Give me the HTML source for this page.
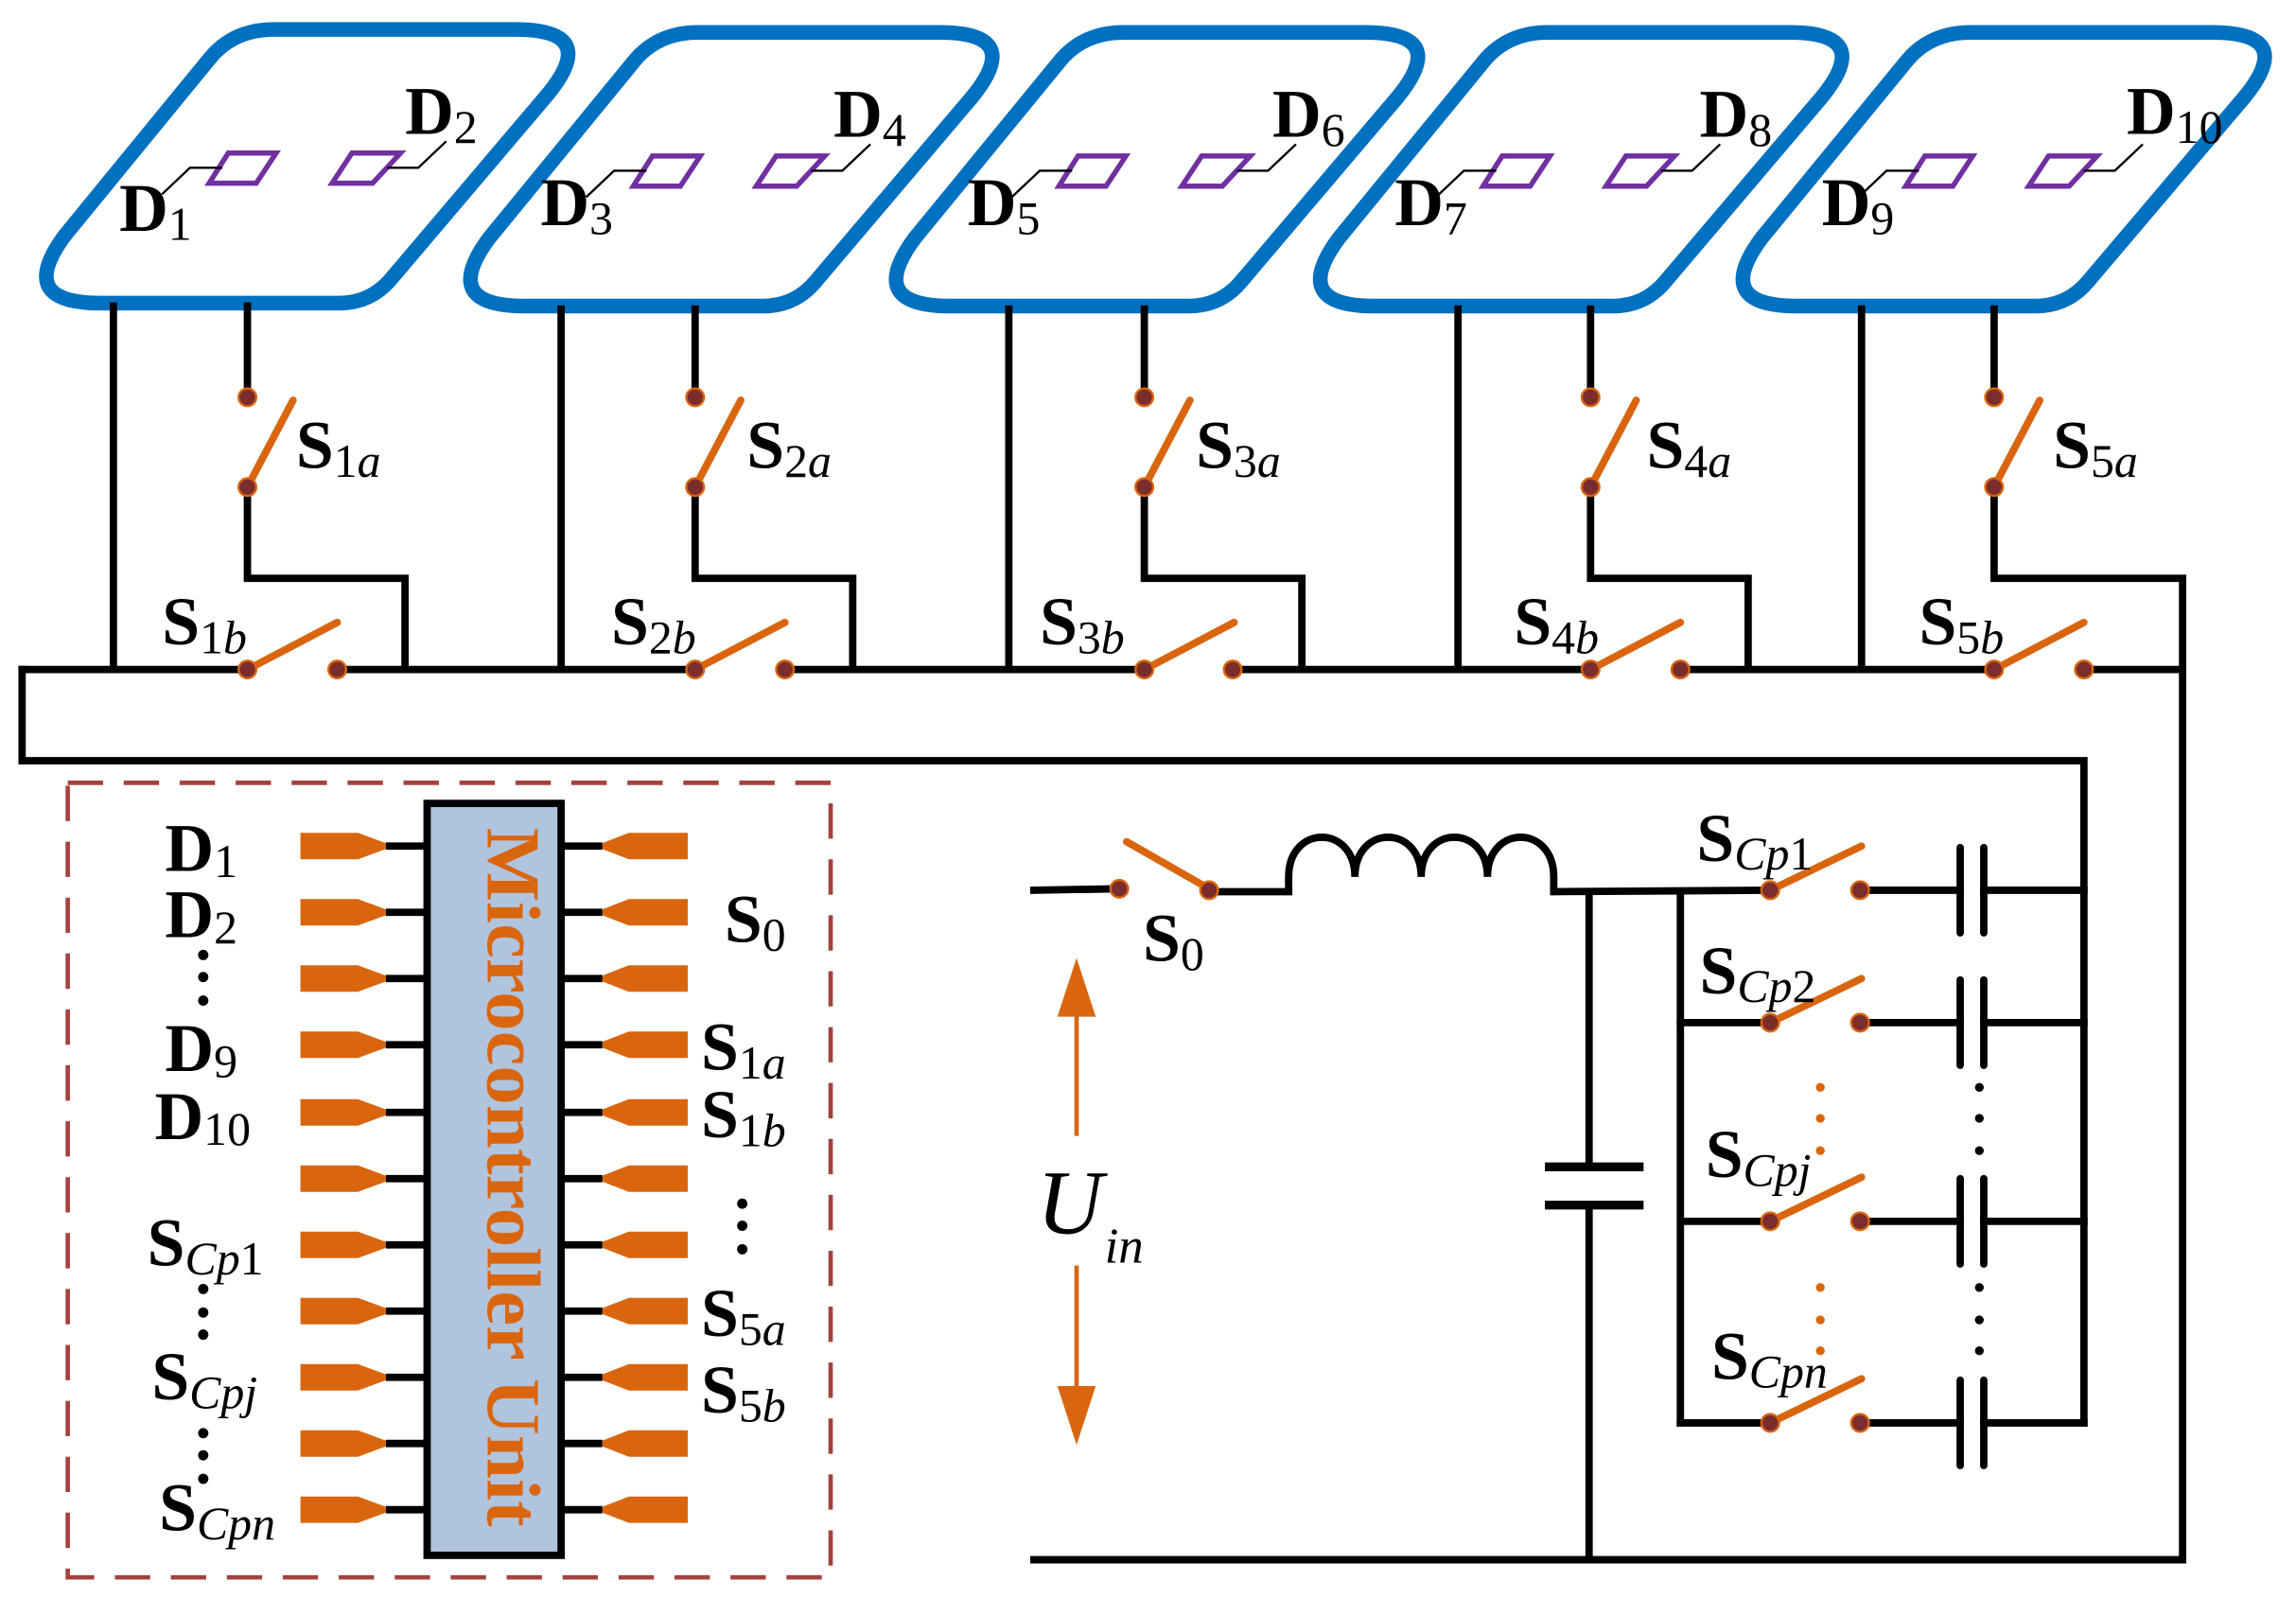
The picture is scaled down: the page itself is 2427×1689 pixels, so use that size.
<!DOCTYPE html>
<html><head><meta charset="utf-8"><style>
html,body{margin:0;padding:0;background:#fff;}
svg{display:block;}
svg text, svg tspan{font-family:"Liberation Serif","Times New Roman",Times,serif !important;}
</style></head><body>
<svg width="2427" height="1689" viewBox="0 0 1559 1086" preserveAspectRatio="none" xmlns="http://www.w3.org/2000/svg" font-family="'Liberation Serif', 'Times New Roman', Times, serif">
<defs>
<path id="mod" d="M186,20 L350,20 Q408,20 372,64 L266,189 Q252,206 230,206 L68,206 Q10,206 44,160 L143,39 Q159,20 186,20 Z" fill="none" stroke="#0070C0" stroke-width="10"/>
<g id="diam">
<polygon points="142,124.5 155,104 187.5,104 174,124.5" fill="none" stroke="#7030A0" stroke-width="3.5"/>
<polygon points="225.5,124.5 239,104 272,104 253,124.5" fill="none" stroke="#7030A0" stroke-width="3.5"/>
<polyline points="151,114 129,114 110,132" fill="none" stroke="#000" stroke-width="1.5"/>
<polyline points="263,114 284,114 303,96" fill="none" stroke="#000" stroke-width="1.5"/>
</g>
<g id="lpin"><polygon points="204,-9 243,-9 262,-2 262,2 243,9 204,9" fill="#D9660F"/><line x1="262" y1="0" x2="290" y2="0" stroke="#000" stroke-width="5"/></g>
<g id="rpin"><polygon points="409,-2 427,-9 467,-9 467,9 427,9 409,2" fill="#D9660F"/><line x1="381" y1="0" x2="409" y2="0" stroke="#000" stroke-width="5"/></g>
</defs>

<use href="#mod"/><use href="#diam"/>
<g transform="translate(288,2)"><use href="#mod"/><use href="#diam"/></g>
<g transform="translate(577,2)"><use href="#mod"/><use href="#diam"/></g>
<g transform="translate(865,2)"><use href="#mod"/><use href="#diam"/></g>
<g transform="translate(1152,2)"><use href="#mod"/><use href="#diam"/></g>

<g font-size="46" font-weight="bold">
<text x="81" y="157">D<tspan font-size="32" font-weight="normal" dy="6">1</tspan></text>
<text x="275" y="91">D<tspan font-size="32" font-weight="normal" dy="6">2</tspan></text>
<text x="367" y="153">D<tspan font-size="32" font-weight="normal" dy="6">3</tspan></text>
<text x="566" y="93">D<tspan font-size="32" font-weight="normal" dy="6">4</tspan></text>
<text x="657" y="153">D<tspan font-size="32" font-weight="normal" dy="6">5</tspan></text>
<text x="864" y="93">D<tspan font-size="32" font-weight="normal" dy="6">6</tspan></text>
<text x="947" y="153">D<tspan font-size="32" font-weight="normal" dy="6">7</tspan></text>
<text x="1154" y="93">D<tspan font-size="32" font-weight="normal" dy="6">8</tspan></text>
<text x="1237" y="153">D<tspan font-size="32" font-weight="normal" dy="6">9</tspan></text>
<text x="1444" y="91">D<tspan font-size="32" font-weight="normal" dy="6">10</tspan></text>
</g>

<g stroke="#000" stroke-width="5" fill="none" stroke-linecap="square">
<line x1="77" y1="208" x2="77" y2="455"/><line x1="168" y1="208" x2="168" y2="270"/><polyline points="168,331 168,393 275,393 275,455"/>
<line x1="381" y1="210" x2="381" y2="455"/><line x1="472" y1="210" x2="472" y2="270"/><polyline points="472,331 472,393 579,393 579,455"/>
<line x1="685" y1="210" x2="685" y2="455"/><line x1="777" y1="210" x2="777" y2="270"/><polyline points="777,331 777,393 884,393 884,455"/>
<line x1="990" y1="210" x2="990" y2="455"/><line x1="1080" y1="210" x2="1080" y2="270"/><polyline points="1080,331 1080,393 1187,393 1187,455"/>
<line x1="1264" y1="210" x2="1264" y2="455"/><line x1="1354" y1="210" x2="1354" y2="270"/><polyline points="1354,331 1354,393 1482,393 1482,1060"/>
<line x1="15" y1="455" x2="168" y2="455"/><line x1="229" y1="455" x2="472" y2="455"/><line x1="533" y1="455" x2="777" y2="455"/><line x1="837" y1="455" x2="1080" y2="455"/><line x1="1141" y1="455" x2="1354" y2="455"/><line x1="1415" y1="455" x2="1482" y2="455"/>
<polyline points="15,455 15,517 1415,517 1415,967"/>
<line x1="702" y1="1060" x2="1482" y2="1060"/>
<line x1="702" y1="605" x2="760" y2="604"/>
<line x1="821" y1="606" x2="875" y2="606"/>
<path d="M875,606 V596 C875,560 920,560 920,596 C920,560 965,560 965,596 C965,560 1010,560 1010,596 C1010,560 1055,560 1055,596 V606" stroke-linecap="butt"/>
<line x1="1055" y1="606" x2="1202" y2="605"/>
<line x1="1079" y1="606" x2="1079" y2="793"/><line x1="1079" y1="819" x2="1079" y2="1060"/>
<line x1="1052" y1="793" x2="1113" y2="793" stroke-width="6"/><line x1="1052" y1="819" x2="1113" y2="819" stroke-width="6"/>
<line x1="1141" y1="606" x2="1141" y2="967"/>
<line x1="1141" y1="695" x2="1202" y2="695"/><line x1="1143" y1="830" x2="1202" y2="830"/><line x1="1141" y1="967" x2="1202" y2="967"/>
<g id="caprow">
<line x1="1263" y1="605" x2="1331" y2="605"/><line x1="1347" y1="605" x2="1415" y2="605"/>
<line x1="1331" y1="576" x2="1331" y2="634" stroke-linecap="round"/><line x1="1347" y1="576" x2="1347" y2="634" stroke-linecap="round"/>
</g>
<use href="#caprow" transform="translate(0,90)"/>
<use href="#caprow" transform="translate(0,225)"/>
<use href="#caprow" transform="translate(0,362)"/>
</g>

<g stroke="#D9660F" stroke-width="5" stroke-linecap="round">
<line x1="168" y1="331" x2="199" y2="272"/><line x1="472" y1="331" x2="503" y2="272"/><line x1="777" y1="331" x2="808" y2="272"/><line x1="1080" y1="331" x2="1111" y2="272"/><line x1="1354" y1="331" x2="1385" y2="272"/>
<line x1="168" y1="455" x2="229" y2="423"/><line x1="472" y1="455" x2="533" y2="423"/><line x1="777" y1="455" x2="838" y2="423"/><line x1="1080" y1="455" x2="1141" y2="423"/><line x1="1354" y1="455" x2="1415" y2="423"/>
<line x1="821" y1="604" x2="765" y2="572"/>
<line x1="1202" y1="605" x2="1264" y2="575"/><line x1="1202" y1="695" x2="1264" y2="665"/><line x1="1202" y1="830" x2="1264" y2="800"/><line x1="1202" y1="967" x2="1264" y2="937"/>
</g>
<g fill="#7B2C2C" stroke="#D9660F" stroke-width="1.5">
<circle cx="168" cy="270" r="6"/><circle cx="168" cy="331" r="6"/><circle cx="472" cy="270" r="6"/><circle cx="472" cy="331" r="6"/><circle cx="777" cy="270" r="6"/><circle cx="777" cy="331" r="6"/><circle cx="1080" cy="270" r="6"/><circle cx="1080" cy="331" r="6"/><circle cx="1354" cy="270" r="6"/><circle cx="1354" cy="331" r="6"/>
<circle cx="168" cy="455" r="6"/><circle cx="229" cy="455" r="6"/><circle cx="472" cy="455" r="6"/><circle cx="533" cy="455" r="6"/><circle cx="777" cy="455" r="6"/><circle cx="837" cy="455" r="6"/><circle cx="1080" cy="455" r="6"/><circle cx="1141" cy="455" r="6"/><circle cx="1354" cy="455" r="6"/><circle cx="1415" cy="455" r="6"/>
<circle cx="760" cy="604" r="6"/><circle cx="821" cy="605" r="6"/>
<circle cx="1202" cy="605" r="6"/><circle cx="1263" cy="605" r="6"/><circle cx="1202" cy="695" r="6"/><circle cx="1263" cy="695" r="6"/><circle cx="1202" cy="830" r="6"/><circle cx="1263" cy="830" r="6"/><circle cx="1202" cy="967" r="6"/><circle cx="1263" cy="967" r="6"/>
</g>
<g fill="#D9660F"><circle cx="1236" cy="739" r="3"/><circle cx="1236" cy="760" r="3"/><circle cx="1236" cy="782" r="3"/><circle cx="1236" cy="875" r="3"/><circle cx="1236" cy="897" r="3"/><circle cx="1236" cy="918" r="3"/></g>
<g fill="#000"><circle cx="1344" cy="739" r="3"/><circle cx="1344" cy="760" r="3"/><circle cx="1344" cy="782" r="3"/><circle cx="1344" cy="875" r="3"/><circle cx="1344" cy="897" r="3"/><circle cx="1344" cy="918" r="3"/></g>

<g font-size="46" font-weight="bold">
<text x="201" y="318">S<tspan font-size="32" font-weight="normal" dy="6">1</tspan><tspan font-size="32" font-weight="normal" font-style="italic">a</tspan></text>
<text x="507" y="318">S<tspan font-size="32" font-weight="normal" dy="6">2</tspan><tspan font-size="32" font-weight="normal" font-style="italic">a</tspan></text>
<text x="812" y="318">S<tspan font-size="32" font-weight="normal" dy="6">3</tspan><tspan font-size="32" font-weight="normal" font-style="italic">a</tspan></text>
<text x="1118" y="318">S<tspan font-size="32" font-weight="normal" dy="6">4</tspan><tspan font-size="32" font-weight="normal" font-style="italic">a</tspan></text>
<text x="1394" y="318">S<tspan font-size="32" font-weight="normal" dy="6">5</tspan><tspan font-size="32" font-weight="normal" font-style="italic">a</tspan></text>
<text x="110" y="438">S<tspan font-size="32" font-weight="normal" dy="6">1</tspan><tspan font-size="32" font-weight="normal" font-style="italic">b</tspan></text>
<text x="415" y="438">S<tspan font-size="32" font-weight="normal" dy="6">2</tspan><tspan font-size="32" font-weight="normal" font-style="italic">b</tspan></text>
<text x="706" y="438">S<tspan font-size="32" font-weight="normal" dy="6">3</tspan><tspan font-size="32" font-weight="normal" font-style="italic">b</tspan></text>
<text x="1028" y="438">S<tspan font-size="32" font-weight="normal" dy="6">4</tspan><tspan font-size="32" font-weight="normal" font-style="italic">b</tspan></text>
<text x="1303" y="438">S<tspan font-size="32" font-weight="normal" dy="6">5</tspan><tspan font-size="32" font-weight="normal" font-style="italic">b</tspan></text>
<text x="776" y="653">S<tspan font-size="32" font-weight="normal" dy="6">0</tspan></text>
<text x="1152" y="585">S<tspan font-size="32" font-weight="normal" font-style="italic" dy="6">Cp</tspan><tspan font-size="32" font-weight="normal">1</tspan></text>
<text x="1154" y="675">S<tspan font-size="32" font-weight="normal" font-style="italic" dy="6">Cp</tspan><tspan font-size="32" font-weight="normal">2</tspan></text>
<text x="1158" y="800">S<tspan font-size="32" font-weight="normal" font-style="italic" dy="6">Cpj</tspan></text>
<text x="1162" y="937">S<tspan font-size="32" font-weight="normal" font-style="italic" dy="6">Cpn</tspan></text>
</g>

<g stroke="#D9660F" stroke-width="3"><line x1="731" y1="688" x2="731" y2="772"/><line x1="731" y1="860" x2="731" y2="944"/></g>
<polygon points="731,651 744,691 718,691" fill="#D9660F"/>
<polygon points="731,982 744,942 718,942" fill="#D9660F"/>
<text x="704" y="838" font-size="62" font-style="italic">U</text>
<text x="750" y="858" font-size="34" font-style="italic">in</text>

<rect x="46" y="532" width="518" height="540" fill="none" stroke="#A5423C" stroke-width="3" stroke-dasharray="24,14"/>
<rect x="290" y="546" width="91" height="511" fill="#B0C4DE" stroke="#000" stroke-width="5"/>
<text transform="translate(331,800) rotate(90)" text-anchor="middle" font-size="52" font-weight="bold" fill="#D9660F" textLength="475" lengthAdjust="spacingAndGlyphs">Microcontroller Unit</text>
<g>
<use href="#lpin" y="575"/><use href="#lpin" y="620"/><use href="#lpin" y="665"/><use href="#lpin" y="710"/><use href="#lpin" y="756"/><use href="#lpin" y="801"/><use href="#lpin" y="846"/><use href="#lpin" y="891"/><use href="#lpin" y="936"/><use href="#lpin" y="981"/><use href="#lpin" y="1026"/>
<use href="#rpin" y="575"/><use href="#rpin" y="620"/><use href="#rpin" y="665"/><use href="#rpin" y="710"/><use href="#rpin" y="756"/><use href="#rpin" y="801"/><use href="#rpin" y="846"/><use href="#rpin" y="891"/><use href="#rpin" y="936"/><use href="#rpin" y="981"/><use href="#rpin" y="1026"/>
</g>
<g font-size="46" font-weight="bold">
<text x="112" y="592">D<tspan font-size="32" font-weight="normal" dy="4">1</tspan></text>
<text x="112" y="637">D<tspan font-size="32" font-weight="normal" dy="4">2</tspan></text>
<text x="112" y="728">D<tspan font-size="32" font-weight="normal" dy="4">9</tspan></text>
<text x="105" y="774">D<tspan font-size="32" font-weight="normal" dy="4">10</tspan></text>
<text x="100" y="860">S<tspan font-size="32" font-weight="normal" font-style="italic" dy="6">Cp</tspan><tspan font-size="32" font-weight="normal">1</tspan></text>
<text x="103" y="951">S<tspan font-size="32" font-weight="normal" font-style="italic" dy="6">Cpj</tspan></text>
<text x="108" y="1040">S<tspan font-size="32" font-weight="normal" font-style="italic" dy="6">Cpn</tspan></text>
<text x="492" y="640">S<tspan font-size="32" font-weight="normal" dy="6">0</tspan></text>
<text x="476" y="727">S<tspan font-size="32" font-weight="normal" dy="6">1</tspan><tspan font-size="32" font-weight="normal" font-style="italic">a</tspan></text>
<text x="476" y="773">S<tspan font-size="32" font-weight="normal" dy="6">1</tspan><tspan font-size="32" font-weight="normal" font-style="italic">b</tspan></text>
<text x="476" y="908">S<tspan font-size="32" font-weight="normal" dy="6">5</tspan><tspan font-size="32" font-weight="normal" font-style="italic">a</tspan></text>
<text x="476" y="960">S<tspan font-size="32" font-weight="normal" dy="6">5</tspan><tspan font-size="32" font-weight="normal" font-style="italic">b</tspan></text>
</g>
<g fill="#000">
<circle cx="138" cy="649" r="3.5"/><circle cx="138" cy="664" r="3.5"/><circle cx="138" cy="680" r="3.5"/>
<circle cx="138" cy="876" r="3.5"/><circle cx="138" cy="892" r="3.5"/><circle cx="138" cy="907" r="3.5"/>
<circle cx="138" cy="974" r="3.5"/><circle cx="138" cy="989" r="3.5"/><circle cx="138" cy="1005" r="3.5"/>
<circle cx="504" cy="818" r="3.5"/><circle cx="504" cy="833" r="3.5"/><circle cx="504" cy="849" r="3.5"/>
</g>
</svg>
</body></html>
